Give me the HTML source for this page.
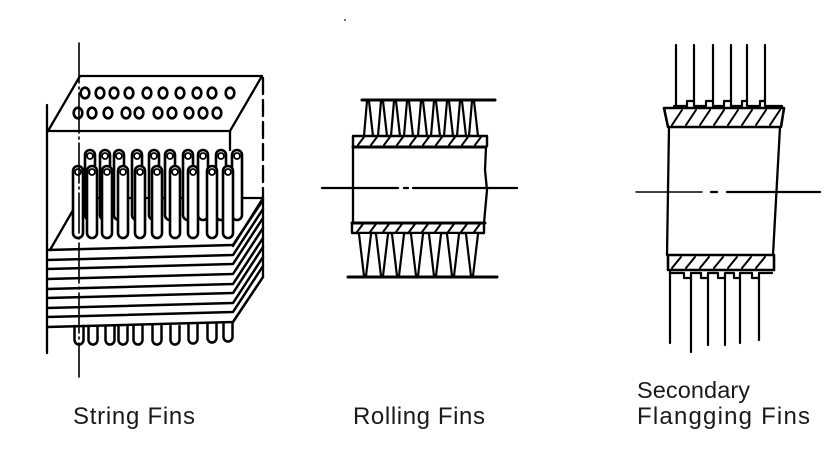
<!DOCTYPE html>
<html><head><meta charset="utf-8"><style>
html,body{margin:0;padding:0;background:#fff;}
svg{display:block;}
text{font-family:"Liberation Sans",Arial,sans-serif;fill:#1a1a1a;}
</style></head><body>
<svg width="831" height="458" viewBox="0 0 831 458" xmlns="http://www.w3.org/2000/svg">
<rect width="831" height="458" fill="#fff"/>
<g stroke="#000" stroke-width="2.3" fill="none" stroke-linecap="round" stroke-linejoin="round">
<!-- ========== STRING FINS ========== -->
<line x1="47" y1="105" x2="47" y2="353"/>
<!-- top plate -->
<line x1="80" y1="76" x2="262" y2="76"/>
<line x1="48" y1="131" x2="230" y2="131"/>
<line x1="48" y1="131" x2="80" y2="76"/>
<line x1="230" y1="131" x2="262" y2="76"/>
<line x1="230" y1="131" x2="230" y2="150"/>
<line x1="263" y1="78" x2="263" y2="197" stroke-dasharray="16 6"/>
<!-- holes -->
<g stroke-width="2.6">
<ellipse cx="85" cy="93" rx="4.3" ry="5.3"/><ellipse cx="100" cy="93" rx="4.3" ry="5.3"/><ellipse cx="114" cy="93" rx="4.3" ry="5.3"/><ellipse cx="129" cy="93" rx="4.3" ry="5.3"/><ellipse cx="147" cy="93" rx="4.3" ry="5.3"/><ellipse cx="163" cy="93" rx="4.3" ry="5.3"/><ellipse cx="180" cy="93" rx="4.3" ry="5.3"/><ellipse cx="197" cy="93" rx="4.3" ry="5.3"/><ellipse cx="212" cy="93" rx="4.3" ry="5.3"/><ellipse cx="230" cy="93" rx="4.3" ry="5.3"/>
<ellipse cx="78" cy="113" rx="4.3" ry="5.3"/><ellipse cx="92" cy="113" rx="4.3" ry="5.3"/><ellipse cx="108" cy="113" rx="4.3" ry="5.3"/><ellipse cx="126" cy="113" rx="4.3" ry="5.3"/><ellipse cx="139" cy="113" rx="4.3" ry="5.3"/><ellipse cx="158" cy="113" rx="4.3" ry="5.3"/><ellipse cx="172" cy="113" rx="4.3" ry="5.3"/><ellipse cx="189" cy="113" rx="4.3" ry="5.3"/><ellipse cx="203" cy="113" rx="4.3" ry="5.3"/><ellipse cx="217" cy="113" rx="4.3" ry="5.3"/>
</g>
<!-- stack top face -->
<line x1="50" y1="250" x2="80" y2="198"/>
<line x1="80" y1="198" x2="263" y2="198"/>
<line x1="263" y1="198" x2="233" y2="246"/>
<line x1="263" y1="198" x2="263" y2="277"/>
<!-- stack layers -->
<g stroke-width="2.5">
<path d="M47 250 L233 245 L263 200"/>
<path d="M47 260 L233 255 L263 209"/>
<path d="M47 269 L233 264 L263 218"/>
<path d="M47 279 L233 274 L263 228"/>
<path d="M47 289 L233 284 L263 238"/>
<path d="M47 298 L233 293 L263 247"/>
<path d="M47 308 L233 303 L263 257"/>
<path d="M47 317 L233 312 L263 266"/>
<path d="M47 327 L233 322 L263 277"/>
</g>
<!-- tubes back row -->
<g fill="#fff" stroke-width="2.6">
<rect x="85" y="150" width="10" height="70" rx="5"/><rect x="100" y="150" width="10" height="70" rx="5"/><rect x="114" y="150" width="10" height="70" rx="5"/><rect x="132" y="150" width="10" height="70" rx="5"/><rect x="149" y="150" width="10" height="70" rx="5"/><rect x="165" y="150" width="10" height="70" rx="5"/><rect x="183" y="150" width="10" height="70" rx="5"/><rect x="198" y="150" width="10" height="70" rx="5"/><rect x="216" y="150" width="10" height="70" rx="5"/><rect x="232" y="150" width="10" height="70" rx="5"/>
<!-- tubes front row -->
<rect x="73" y="166" width="10" height="72" rx="5"/><rect x="87" y="166" width="10" height="72" rx="5"/><rect x="102" y="166" width="10" height="72" rx="5"/><rect x="118" y="166" width="10" height="72" rx="5"/><rect x="135" y="166" width="10" height="72" rx="5"/><rect x="152" y="166" width="10" height="72" rx="5"/><rect x="170" y="166" width="10" height="72" rx="5"/><rect x="188" y="166" width="10" height="72" rx="5"/><rect x="207" y="166" width="10" height="72" rx="5"/><rect x="223" y="166" width="10" height="72" rx="5"/>
</g>
<g stroke-width="1.8">
<circle cx="90" cy="156" r="3"/><circle cx="105" cy="156" r="3"/><circle cx="119" cy="156" r="3"/><circle cx="137" cy="156" r="3"/><circle cx="154" cy="156" r="3"/><circle cx="170" cy="156" r="3"/><circle cx="188" cy="156" r="3"/><circle cx="203" cy="156" r="3"/><circle cx="221" cy="156" r="3"/><circle cx="237" cy="156" r="3"/>
<circle cx="78" cy="172" r="3"/><circle cx="92" cy="172" r="3"/><circle cx="107" cy="172" r="3"/><circle cx="123" cy="172" r="3"/><circle cx="140" cy="172" r="3"/><circle cx="157" cy="172" r="3"/><circle cx="175" cy="172" r="3"/><circle cx="193" cy="172" r="3"/><circle cx="212" cy="172" r="3"/><circle cx="228" cy="172" r="3"/>
</g>
<!-- bottom U ends -->
<g stroke-width="2.5">
<path d="M74.5 326 V340 A4.5 4.5 0 0 0 83.5 340 V326"/>
<path d="M88.5 326 V340 A4.5 4.5 0 0 0 97.5 340 V326"/>
<path d="M105.5 326 V340 A4.5 4.5 0 0 0 114.5 340 V326"/>
<path d="M118.5 326 V340 A4.5 4.5 0 0 0 127.5 340 V326"/>
<path d="M133.5 326 V340 A4.5 4.5 0 0 0 142.5 340 V326"/>
<path d="M152.5 326 V340 A4.5 4.5 0 0 0 161.5 340 V326"/>
<path d="M170.5 326 V340 A4.5 4.5 0 0 0 179.5 340 V326"/>
<path d="M188.5 325 V339 A4.5 4.5 0 0 0 197.5 339 V325"/>
<path d="M207.5 324 V338 A4.5 4.5 0 0 0 216.5 338 V324"/>
<path d="M223.5 323 V337 A4.5 4.5 0 0 0 232.5 337 V323"/>
</g>
<line x1="79" y1="43" x2="79" y2="377" stroke-width="1.6" stroke-dasharray="40 4 2 4"/>

<!-- ========== ROLLING FINS ========== -->
<line x1="362" y1="100" x2="495" y2="100" stroke-width="3"/>
<g fill="#fff" stroke-width="2.2">
<path d="M364 136 L367 101 L369 101 L373 136"/>
<path d="M378 136 L381 101 L383 101 L387 136"/>
<path d="M391 136 L394 101 L396 101 L400 136"/>
<path d="M404 136 L407 101 L409 101 L413 136"/>
<path d="M418 136 L421 101 L423 101 L427 136"/>
<path d="M431 136 L434 101 L436 101 L440 136"/>
<path d="M444 136 L447 101 L449 101 L453 136"/>
<path d="M457 136 L460 101 L462 101 L466 136"/>
<path d="M469 136 L472 101 L474 101 L478 136"/>
</g>
<path d="M353 146 V136 H487 V146" stroke-width="2.4"/>
<line x1="353" y1="147" x2="486" y2="147" stroke-width="3"/>
<g stroke-width="2">
<line x1="358" y1="145" x2="364" y2="137"/><line x1="371" y1="145" x2="377" y2="137"/><line x1="384" y1="145" x2="390" y2="137"/><line x1="397" y1="145" x2="403" y2="137"/><line x1="410" y1="145" x2="416" y2="137"/><line x1="423" y1="145" x2="429" y2="137"/><line x1="436" y1="145" x2="442" y2="137"/><line x1="449" y1="145" x2="455" y2="137"/><line x1="462" y1="145" x2="468" y2="137"/><line x1="475" y1="145" x2="481" y2="137"/>
</g>
<line x1="353" y1="147" x2="353" y2="223"/>
<path d="M486 147 L485 170 L487 190 L484 223"/>
<line x1="352" y1="223" x2="485" y2="223" stroke-width="3"/>
<path d="M352 223 V233 H484 V223" stroke-width="2.4"/>
<g stroke-width="2">
<line x1="357" y1="232" x2="363" y2="224"/><line x1="370" y1="232" x2="376" y2="224"/><line x1="383" y1="232" x2="389" y2="224"/><line x1="396" y1="232" x2="402" y2="224"/><line x1="409" y1="232" x2="415" y2="224"/><line x1="422" y1="232" x2="428" y2="224"/><line x1="435" y1="232" x2="441" y2="224"/><line x1="448" y1="232" x2="454" y2="224"/><line x1="461" y1="232" x2="467" y2="224"/><line x1="474" y1="232" x2="480" y2="224"/>
</g>
<g fill="#fff" stroke-width="2.2">
<path d="M359 234 L364 276 L366 276 L371 234"/>
<path d="M376 234 L381 276 L383 276 L388 234"/>
<path d="M392 234 L397 276 L399 276 L404 234"/>
<path d="M411 234 L416 276 L418 276 L423 234"/>
<path d="M429 234 L434 276 L436 276 L441 234"/>
<path d="M447 234 L452 276 L454 276 L459 234"/>
<path d="M466 234 L471 276 L473 276 L478 234"/>
</g>
<line x1="348" y1="277" x2="497" y2="277" stroke-width="3"/>
<line x1="322" y1="188" x2="398" y2="188"/>
<line x1="404" y1="188" x2="408" y2="188"/>
<line x1="413" y1="188" x2="517" y2="188"/>

<!-- ========== SECONDARY FLANGING FINS ========== -->
<g stroke-width="2.2">
<line x1="676" y1="45" x2="676" y2="106"/>
<line x1="694" y1="45" x2="694" y2="101"/>
<line x1="713" y1="45" x2="713" y2="101"/>
<line x1="731" y1="45" x2="731" y2="101"/>
<line x1="747" y1="45" x2="747" y2="101"/>
<line x1="765" y1="45" x2="765" y2="101"/>
</g>
<path d="M674 106 H687 V101 H694 V106 H706 V101 H713 V106 H724 V101 H731 V106 H742 V101 H747 V106 H760 V101 H765 V106 H782" stroke-width="2.2"/>
<path d="M664 108 H784 L781 127 H668 Z" stroke-width="2.6"/>
<g stroke-width="2">
<line x1="672" y1="125" x2="682" y2="110"/><line x1="686" y1="125" x2="696" y2="110"/><line x1="700" y1="125" x2="710" y2="110"/><line x1="714" y1="125" x2="724" y2="110"/><line x1="728" y1="125" x2="738" y2="110"/><line x1="742" y1="125" x2="752" y2="110"/><line x1="756" y1="125" x2="766" y2="110"/><line x1="770" y1="125" x2="780" y2="110"/>
</g>
<line x1="669" y1="127" x2="667" y2="255"/>
<line x1="780" y1="127" x2="773" y2="255"/>
<rect x="668" y="255" width="106" height="15" stroke-width="2.6"/>
<g stroke-width="2">
<line x1="672" y1="268" x2="681" y2="257"/><line x1="686" y1="268" x2="695" y2="257"/><line x1="700" y1="268" x2="709" y2="257"/><line x1="714" y1="268" x2="723" y2="257"/><line x1="728" y1="268" x2="737" y2="257"/><line x1="742" y1="268" x2="751" y2="257"/><line x1="756" y1="268" x2="765" y2="257"/>
</g>
<path d="M670 273 H684 V278 H691 V273 H701 V278 H708 V273 H718 V278 H725 V273 H734 V278 H740 V273 H752 V278 H759 V273 H772" stroke-width="2.2"/>
<g stroke-width="2.2">
<line x1="670" y1="272" x2="670" y2="343"/>
<line x1="691" y1="278" x2="691" y2="352"/>
<line x1="708" y1="278" x2="708" y2="345"/>
<line x1="725" y1="278" x2="725" y2="345"/>
<line x1="740" y1="278" x2="740" y2="343"/>
<line x1="759" y1="278" x2="759" y2="340"/>
</g>
<line x1="636" y1="192" x2="702" y2="192" stroke-width="1.4" stroke-dasharray="3 1"/>
<line x1="711" y1="192" x2="717" y2="192"/>
<line x1="727" y1="192" x2="820" y2="192"/>
</g>
<circle cx="345" cy="20" r="1" fill="#444"/>

<!-- labels -->
<text x="73" y="424" font-size="24" textLength="122" lengthAdjust="spacing">String Fins</text>
<text x="353" y="424" font-size="24" textLength="132" lengthAdjust="spacing">Rolling Fins</text>
<text x="637" y="398" font-size="23.5" textLength="113" lengthAdjust="spacing">Secondary</text>
<text x="637" y="424" font-size="24" textLength="173" lengthAdjust="spacing">Flangging Fins</text>
</svg>
</body></html>
